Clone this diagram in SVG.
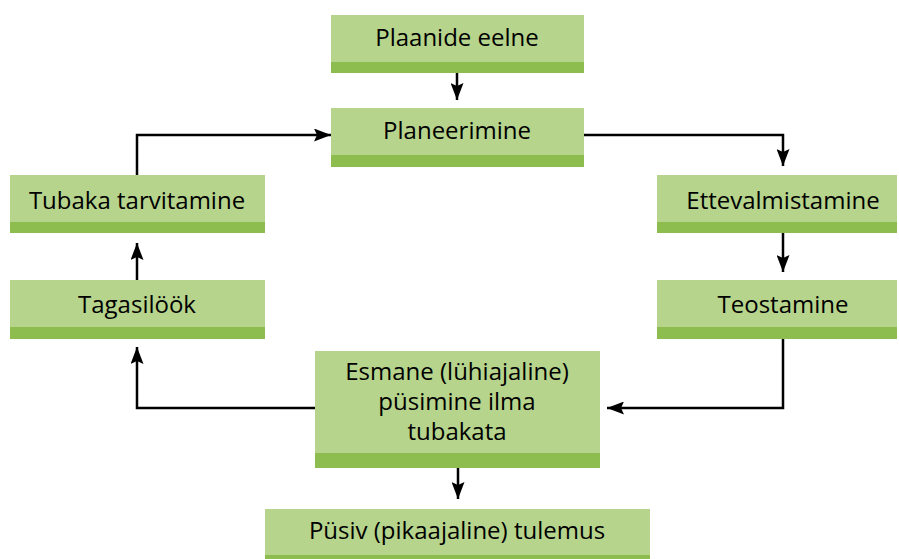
<svg xmlns="http://www.w3.org/2000/svg" width="899" height="559" viewBox="0 0 899 559">
<defs>
<style>
.box{fill:#b6d48c}
.bar{fill:#8dbd4f}
.t{font-family:"Open Sans","Noto Sans","Liberation Sans",sans-serif;font-size:24px;font-weight:500;fill:#000;text-anchor:middle}
.c{fill:none;stroke:#000;stroke-width:2.5}
</style>
<marker id="ah" viewBox="0 0 17 13" refX="17" refY="6.5" markerWidth="17" markerHeight="13" markerUnits="userSpaceOnUse" orient="auto">
<path d="M0,0 L17,6.5 L0,13 L3,6.5 Z" fill="#000"/>
</marker>
</defs>
<rect width="899" height="559" fill="#fff"/>
<g id="connectors">
<path class="c" d="M457,73 V100" marker-end="url(#ah)"/>
<path class="c" d="M584,135 H783 V166" marker-end="url(#ah)"/>
<path class="c" d="M783,233 V272" marker-end="url(#ah)"/>
<path class="c" d="M783,339 V408 H607" marker-end="url(#ah)"/>
<path class="c" d="M315,408 H137 V347" marker-end="url(#ah)"/>
<path class="c" d="M137,280 V243" marker-end="url(#ah)"/>
<path class="c" d="M137,175 V135 H331" marker-end="url(#ah)"/>
<path class="c" d="M458,468 V499" marker-end="url(#ah)"/>
</g>
<g id="n1">
<rect class="box" x="331" y="15" width="253" height="58"/>
<rect class="bar" x="331" y="62" width="253" height="11"/>
<text class="t" x="457" y="46">Plaanide eelne</text>
</g>
<g id="n2">
<rect class="box" x="331" y="108" width="253" height="59"/>
<rect class="bar" x="331" y="155" width="253" height="12"/>
<text class="t" x="457" y="139">Planeerimine</text>
</g>
<g id="n3">
<rect class="box" x="657" y="175" width="240" height="58"/>
<rect class="bar" x="657" y="222" width="240" height="11"/>
<text class="t" x="783" y="209">Ettevalmistamine</text>
</g>
<g id="n4">
<rect class="box" x="657" y="280" width="240" height="59"/>
<rect class="bar" x="657" y="327" width="240" height="12"/>
<text class="t" x="783" y="313">Teostamine</text>
</g>
<g id="n5">
<rect class="box" x="315" y="351" width="285" height="117"/>
<rect class="bar" x="315" y="453" width="285" height="15"/>
<text class="t" x="457" y="380">Esmane (lühiajaline)</text>
<text class="t" x="457" y="410">püsimine ilma</text>
<text class="t" x="457" y="440">tubakata</text>
</g>
<g id="n6">
<rect class="box" x="265" y="509" width="385" height="50"/>
<rect class="bar" x="265" y="555" width="385" height="4"/>
<text class="t" x="457" y="539">Püsiv (pikaajaline) tulemus</text>
</g>
<g id="n7">
<rect class="box" x="10" y="280" width="255" height="59"/>
<rect class="bar" x="10" y="327" width="255" height="12"/>
<text class="t" x="137" y="313">Tagasilöök</text>
</g>
<g id="n8">
<rect class="box" x="10" y="175" width="255" height="58"/>
<rect class="bar" x="10" y="222" width="255" height="11"/>
<text class="t" x="137" y="209">Tubaka tarvitamine</text>
</g>
</svg>
